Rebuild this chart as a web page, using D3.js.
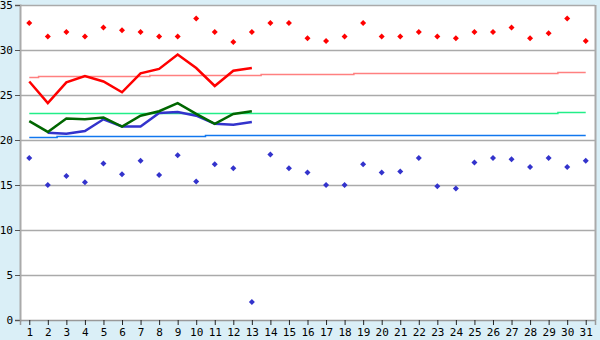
<!DOCTYPE html>
<html>
<head>
<meta charset="utf-8">
<script src="https://cdn.jsdelivr.net/npm/d3@7"></script>
<style>
  body { margin: 0; background: #daeff7; }
  svg { display: block; }
</style>
</head>
<body>
<svg id="chart" width="600" height="340"></svg>
<script>
// days of month
const days = d3.range(1, 32);

// daily max / min (diamonds)
const maxTemp = [33, 31.5, 32, 31.5, 32.5, 32.2, 32, 31.5, 31.5, 33.5, 32, 30.9, 32, 33,
  33, 31.3, 31, 31.5, 33, 31.5, 31.5, 32, 31.5, 31.3, 32, 32, 32.5, 31.3, 31.85, 33.5, 31];
const minTemp = [18, 15, 16, 15.3, 17.4, 16.2, 17.7, 16.1, 18.3, 15.4, 17.3, 16.85, 2, 18.4,
  16.85, 16.4, 15, 15, 17.3, 16.4, 16.5, 18, 14.85, 14.6, 17.5, 18, 17.85, 17, 18, 17, 17.7];

// thick lines (days 1-13)
const redLine = [26.5, 24.1, 26.4, 27.1, 26.5, 25.3, 27.4, 27.9, 29.5, 28.0, 26.0, 27.7, 28.0];
const greenLine = [22.1, 20.9, 22.4, 22.3, 22.5, 21.5, 22.7, 23.2, 24.1, 22.9, 21.8, 22.9, 23.2];
const blueLine = [null, 20.8, 20.7, 21.0, 22.3, 21.5, 21.5, 23.0, 23.1, 22.7, 21.8, 21.7, 22.0];

// thin reference lines (whole month)
const redNorm = [27.0, 27.1, 27.1, 27.1, 27.1, 27.1, 27.1, 27.2, 27.2, 27.2, 27.2, 27.2, 27.2,
  27.3, 27.3, 27.3, 27.3, 27.3, 27.4, 27.4, 27.4, 27.4, 27.4, 27.4, 27.5, 27.5, 27.5, 27.5, 27.5, 27.6, 27.6];
const greenNorm = [23, 23, 23, 23, 23, 23, 23, 23, 23, 23, 23, 23, 23, 23, 23, 23, 23, 23, 23, 23,
  23, 23, 23, 23, 23, 23, 23, 23, 23, 23.1, 23.1];
const blueNorm = [20.3, 20.3, 20.4, 20.4, 20.4, 20.4, 20.4, 20.4, 20.4, 20.4, 20.5, 20.5, 20.5,
  20.5, 20.5, 20.5, 20.5, 20.5, 20.5, 20.5, 20.6, 20.6, 20.6, 20.6, 20.6, 20.6, 20.6, 20.6, 20.6, 20.6, 20.6];

const yTicks = [0, 5, 10, 15, 20, 25, 30, 35];

(() => {
  const m = { left: 20, right: 595, top: 5, bottom: 320 };
  const svg = d3.select("#chart");
  const font = "'DejaVu Sans Mono', monospace";

  const x = d3.scalePoint().domain(days).range([m.left, m.right]).padding(0.5);
  const y = d3.scaleLinear().domain([0, 35]).range([m.bottom, m.top]);

  // plot background
  svg.append("rect")
    .attr("x", m.left).attr("y", m.top)
    .attr("width", m.right - m.left).attr("height", m.bottom - m.top)
    .attr("fill", "#fff");

  // grid
  svg.append("g").selectAll("line")
    .data(yTicks.filter(d => d > 0))
    .join("line")
    .attr("x1", m.left).attr("x2", m.right)
    .attr("y1", d => Math.round(y(d)) + 0.5).attr("y2", d => Math.round(y(d)) + 0.5)
    .attr("stroke", "#aaa").attr("stroke-width", 1.5);

  // right border
  svg.append("line")
    .attr("x1", m.right + 0.5).attr("x2", m.right + 0.5)
    .attr("y1", m.top).attr("y2", m.bottom)
    .attr("stroke", "#aaa").attr("stroke-width", 2);

  // y axis
  const yAxis = svg.append("g")
    .attr("transform", `translate(${m.left},0)`)
    .call(d3.axisLeft(y).tickValues(yTicks).tickSize(5).tickPadding(2));
  yAxis.select(".domain").attr("stroke", "#aaa").attr("stroke-width", 2);
  yAxis.selectAll(".tick line").attr("stroke", "#555");
  yAxis.selectAll("text").attr("font-family", font).attr("font-size", 11).attr("fill", "#000");

  // x axis
  const xAxis = svg.append("g")
    .attr("transform", `translate(0,${m.bottom})`)
    .call(d3.axisBottom(x).tickSize(5).tickPadding(3));
  xAxis.select(".domain").attr("stroke", "#999").attr("stroke-width", 1.5);
  xAxis.selectAll(".tick line").attr("stroke", "#222");
  xAxis.selectAll("text").attr("font-family", font).attr("font-size", 11).attr("fill", "#000");

  // thin lines
  const thin = [[redNorm, "#ff8080"], [greenNorm, "#22ee88"], [blueNorm, "#1177ee"]];
  thin.forEach(([vals, color]) => {
    const line = d3.line()
      .x((d, i) => x(days[i]))
      .y(d => Math.round(y(d)) + 0.5)
      .curve(d3.curveStep);
    svg.append("path")
      .datum(vals)
      .attr("fill", "none")
      .attr("stroke", color)
      .attr("stroke-width", 1.5)
      .attr("d", line);
  });

  // thick lines
  const thick = [[redLine, "#ff0000"], [blueLine, "#3333cc"], [greenLine, "#006600"]];
  thick.forEach(([vals, color]) => {
    const line = d3.line()
      .defined(d => d != null)
      .x((d, i) => x(days[i]))
      .y(d => y(d));
    svg.append("path")
      .datum(vals)
      .attr("fill", "none")
      .attr("stroke", color)
      .attr("stroke-width", 2.5)
      .attr("d", line);
  });

  // diamonds (rotated squares)
  const diamond = d3.symbol().type(d3.symbolSquare).size(18);
  [[maxTemp, "#ff0000"], [minTemp, "#3333cc"]].forEach(([vals, color]) => {
    svg.append("g").selectAll("path")
      .data(vals)
      .join("path")
      .attr("d", diamond)
      .attr("transform", (d, i) => `translate(${x(days[i])},${y(d)}) rotate(45)`)
      .attr("fill", color);
  });
})();
</script>
</body>
</html>
